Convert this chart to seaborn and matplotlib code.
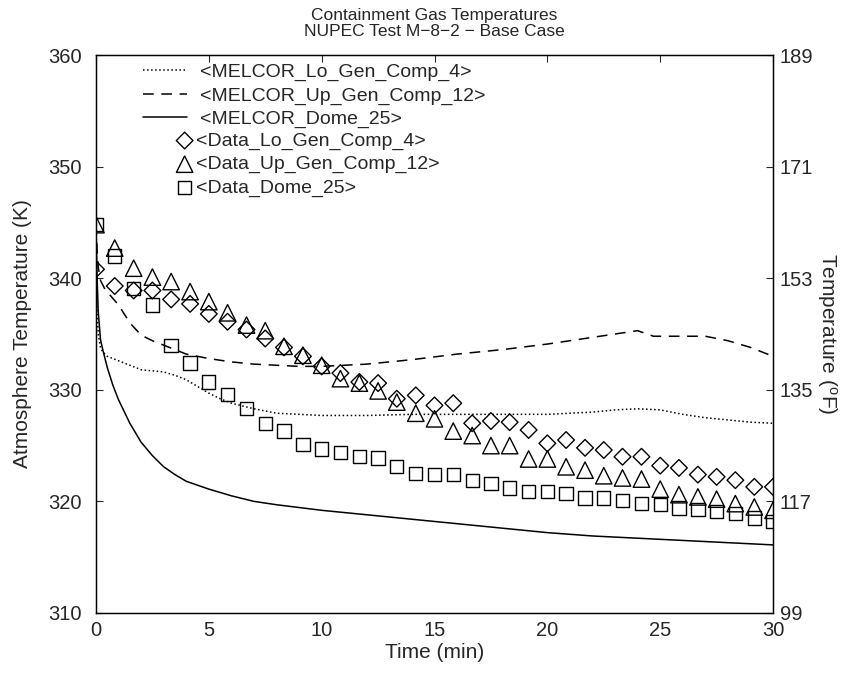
import matplotlib
matplotlib.use("Agg")
import matplotlib.pyplot as plt
import seaborn as sns

# MELCOR calculated curves (time in min, temperature in K)
lo_calc_t = [0, 0.05, 0.1, 0.2, 0.3, 0.5, 1, 1.5, 2, 2.5, 3, 3.5, 4, 4.5, 5, 5.5, 6, 7, 8, 9,
             10, 12, 14, 16, 18, 20, 22, 23, 24, 25, 26, 27, 28, 29, 30]
lo_calc_k = [340.8, 337.0, 335.0, 333.8, 333.4, 333.0, 332.6, 332.2, 331.8, 331.7, 331.6, 331.3,
             330.9, 330.3, 329.7, 329.2, 328.8, 328.3, 327.9, 327.8, 327.7, 327.7, 327.8, 327.8,
             327.8, 327.8, 328.0, 328.2, 328.3, 328.2, 327.8, 327.5, 327.3, 327.1, 327.0]

up_calc_t = [0, 0.05, 0.1, 0.2, 0.4, 0.7, 1, 1.5, 2, 2.5, 3, 4, 5, 6, 7, 8, 9, 10, 11, 12,
             14, 16, 18, 20, 22, 23, 24, 24.7, 25.5, 27, 28, 29, 30]
up_calc_k = [344.8, 342.5, 341.0, 339.8, 339.0, 338.3, 337.6, 336.0, 334.9, 334.4, 334.0, 333.2,
             332.8, 332.5, 332.3, 332.2, 332.1, 332.1, 332.2, 332.3, 332.7, 333.2, 333.6, 334.1,
             334.7, 335.0, 335.3, 334.8, 334.8, 334.8, 334.4, 333.8, 333.0]

dome_calc_t = [0, 0.05, 0.1, 0.2, 0.3, 0.5, 0.75, 1, 1.5, 2, 2.5, 3, 3.5, 4, 5, 6, 7, 8, 10,
               12, 14, 16, 18, 20, 22, 24, 26, 28, 30]
dome_calc_k = [344.8, 340.0, 337.0, 334.5, 333.6, 332.0, 330.4, 329.1, 327.0, 325.3, 324.1, 323.1,
               322.4, 321.8, 321.1, 320.5, 320.0, 319.7, 319.2, 318.8, 318.4, 318.0, 317.6, 317.2,
               316.9, 316.7, 316.5, 316.3, 316.1]

# measured data
data_t = [0, 0.83, 1.67, 2.5, 3.33, 4.17, 5, 5.83, 6.67, 7.5, 8.33, 9.17, 10, 10.83, 11.67,
          12.5, 13.33, 14.17, 15, 15.83, 16.67, 17.5, 18.33, 19.17, 20, 20.83, 21.67, 22.5,
          23.33, 24.17, 25, 25.83, 26.67, 27.5, 28.33, 29.17, 30]
lo_data = [340.8, 339.3, 338.9, 338.9, 338.1, 337.7, 336.8, 336.1, 335.4, 334.6, 333.8, 333.0,
           332.1, 331.5, 330.7, 330.6, 329.2, 329.5, 328.6, 328.8, 327.0, 327.2, 327.1, 326.4,
           325.2, 325.5, 324.8, 324.6, 324.0, 324.0, 323.2, 323.0, 322.4, 322.2, 321.9, 321.3, 321.3]
up_data = [344.8, 342.7, 340.9, 340.1, 339.7, 338.8, 337.9, 336.9, 335.8, 335.3, 333.9, 333.1,
           332.2, 331.0, 330.6, 329.9, 328.9, 327.9, 327.4, 326.3, 325.9, 325.0, 325.0, 323.8,
           323.8, 323.1, 322.8, 322.3, 322.1, 322.0, 321.1, 320.6, 320.4, 320.2, 319.8, 319.5, 319.2]
dome_data = [344.8, 342.0, 339.1, 337.6, 334.0, 332.4, 330.7, 329.6, 328.3, 327.0, 326.3, 325.1,
             324.7, 324.4, 324.0, 323.9, 323.1, 322.5, 322.4, 322.4, 321.9, 321.6, 321.2, 320.9,
             320.9, 320.7, 320.3, 320.3, 320.1, 319.8, 319.7, 319.4, 319.3, 319.1, 318.9, 318.5, 318.2]

k_ticks = [310, 320, 330, 340, 350, 360]
f_labels = ['99', '117', '135', '153', '171', '189']

sns.set_style('white')
plt.rcParams['font.family'] = ['Liberation Sans', 'DejaVu Sans']
plt.rcParams['mathtext.default'] = 'regular'

fig = plt.figure(figsize=(8.54, 6.73), dpi=100)
ax = fig.add_axes([0.1124, 0.0892, 0.7928, 0.829])

sns.lineplot(x=lo_calc_t, y=lo_calc_k, ax=ax, color='black', linestyle=':', linewidth=1.1,
             label='<MELCOR_Lo_Gen_Comp_4>')
sns.lineplot(x=up_calc_t, y=up_calc_k, ax=ax, color='black', linestyle=(0, (7, 5)), linewidth=1.1,
             label='<MELCOR_Up_Gen_Comp_12>')
sns.lineplot(x=dome_calc_t, y=dome_calc_k, ax=ax, color='black', linestyle='-', linewidth=1.1,
             label='<MELCOR_Dome_25>')

mk = dict(ax=ax, facecolor='none', edgecolor='black', linewidth=1.0, zorder=3)
sns.scatterplot(x=data_t, y=lo_data, marker='D', s=72, label='<Data_Lo_Gen_Comp_4>', **mk)
sns.scatterplot(x=data_t, y=up_data, marker='^', s=140, label='<Data_Up_Gen_Comp_12>', **mk)
sns.scatterplot(x=data_t, y=dome_data, marker='s', s=92, label='<Data_Dome_25>', **mk)

ax.set_xlim(0, 30)
ax.set_ylim(310, 360)
ax.set_xticks([0, 5, 10, 15, 20, 25, 30])
ax.set_yticks(k_ticks)
ax.tick_params(direction='in', top=True, length=5, labelsize=14.5)
ax.tick_params(axis='y', pad=10)
ax.tick_params(axis='x', pad=6)
ax.set_xlabel('Time (min)', fontsize=15, labelpad=2)
ax.set_ylabel('Atmosphere Temperature (K)', fontsize=15, labelpad=12)
for sp in ax.spines.values():
    sp.set_color('black')
    sp.set_linewidth(1.0)

ax2 = ax.twinx()
ax2.set_ylim(310, 360)
ax2.set_yticks(k_ticks)
ax2.set_yticklabels(f_labels)
ax2.tick_params(direction='in', length=5, labelsize=14.5, pad=5)
ax2.set_ylabel('Temperature ($^{o}$F)', fontsize=15, rotation=270, labelpad=18)
for sp in ax2.spines.values():
    sp.set_color('black')

fig.text(0.5088, 0.988, 'Containment Gas Temperatures\nNUPEC Test M\u22128\u22122 \u2212 Base Case',
         ha='center', va='top', fontsize=12.5, linespacing=1.1)

handles, labels = ax.get_legend_handles_labels()
leg1 = ax.legend(handles[:3], labels[:3], loc='upper left', bbox_to_anchor=(0.069, 0.985),
                 frameon=False, fontsize=14, handlelength=2.27, handletextpad=0.67,
                 labelspacing=0.3, borderpad=0, borderaxespad=0)
ax.add_artist(leg1)
ax.legend(handles[3:], labels[3:], loc='upper left', bbox_to_anchor=(0.118, 0.862),
          frameon=False, fontsize=14, handlelength=0.9, handletextpad=0.15,
          labelspacing=0.3, borderpad=0, borderaxespad=0)

fig.savefig('out.png', dpi=100)
